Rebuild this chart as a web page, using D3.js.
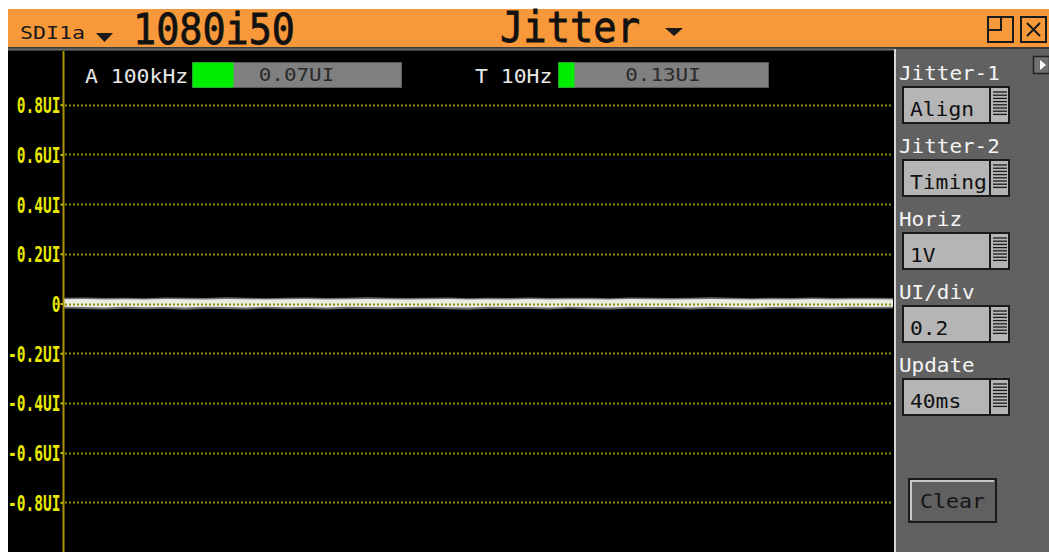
<!DOCTYPE html>
<html><head><meta charset="utf-8">
<script src="https://cdn.jsdelivr.net/npm/d3@7"></script>
<style>body{margin:0;background:#fff;}svg{display:block;}</style>
</head><body>
<svg id="c" width="1049" height="552"></svg>
<script>
// ---- data ----
const tickValues = [0.8, 0.6, 0.4, 0.2, 0, -0.2, -0.4, -0.6, -0.8];
const tickLabels = ["0.8UI","0.6UI","0.4UI","0.2UI","0","-0.2UI","-0.4UI","-0.6UI","-0.8UI"];
const readoutLabels = ["A 100kHz", "T 10Hz"];
const readoutValues = ["0.07UI", "0.13UI"];
const meterFill = [0.196, 0.076];
const panelLabels = ["Jitter-1","Jitter-2","Horiz","UI/div","Update"];
const panelValues = ["Align","Timing","1V","0.2","40ms"];
// jitter trace envelopes (UI)
const outerUpper = [0.023,0.024,0.022,0.023,0.021,0.024,0.023,0.022,0.025,0.023,0.021,0.023,0.024,0.022,0.023,0.025,0.023,0.022,0.023,0.024,0.021,0.023,0.022,0.024,0.022,0.023,0.023,0.021,0.024,0.023,0.022,0.023,0.025,0.023,0.021,0.023,0.022,0.024,0.022,0.023,0.023,0.022];
const outerLower = [-0.020,-0.022,-0.024,-0.021,-0.023,-0.021,-0.025,-0.021,-0.022,-0.024,-0.020,-0.023,-0.021,-0.024,-0.021,-0.022,-0.023,-0.021,-0.020,-0.023,-0.025,-0.021,-0.022,-0.021,-0.024,-0.020,-0.023,-0.024,-0.021,-0.022,-0.021,-0.024,-0.021,-0.023,-0.024,-0.021,-0.020,-0.022,-0.023,-0.021,-0.021,-0.020];
const innerUpper = [0.017,0.018,0.016,0.017,0.016,0.018,0.017,0.016,0.018,0.017,0.016,0.017,0.018,0.016,0.017,0.018,0.017,0.016,0.017,0.018,0.016,0.017,0.016,0.018,0.016,0.017,0.017,0.016,0.018,0.017,0.016,0.017,0.018,0.017,0.016,0.017,0.016,0.018,0.016,0.017,0.017,0.016];
const innerLower = [-0.013,-0.014,-0.016,-0.013,-0.015,-0.014,-0.016,-0.013,-0.014,-0.016,-0.013,-0.015,-0.014,-0.016,-0.013,-0.014,-0.015,-0.014,-0.013,-0.015,-0.016,-0.013,-0.014,-0.014,-0.016,-0.013,-0.015,-0.016,-0.013,-0.014,-0.014,-0.016,-0.013,-0.015,-0.016,-0.014,-0.013,-0.014,-0.015,-0.013,-0.014,-0.013];

// ---- drawing ----
const svg = d3.select("#c");
const mono = "'DejaVu Sans Mono', monospace";

// header
svg.append("rect").attr("x",8).attr("y",9).attr("width",1041).attr("height",39).attr("fill","#f7993a");
svg.append("rect").attr("x",8).attr("y",47).attr("width",1041).attr("height",4).attr("fill","#3a3a3a");
svg.append("rect").attr("x",8).attr("y",48.5).attr("width",886).attr("height",1.5).attr("fill","#6a6a6a");

// plot background and panel
svg.append("rect").attr("x",8).attr("y",51).attr("width",886).attr("height",501).attr("fill","#000");
svg.append("rect").attr("x",894).attr("y",49).attr("width",155).attr("height",503).attr("fill","#616161");
svg.append("line").attr("x1",895).attr("x2",895).attr("y1",49).attr("y2",552).attr("stroke","#d8d8d8").attr("stroke-width",2);

// header texts
function txt(x,y,s,size,fill,len,anchor){
  const t = svg.append("text").attr("x",x).attr("y",y).text(s)
    .attr("font-family",mono).attr("font-size",size).attr("fill",fill);
  if(len) t.attr("textLength",len).attr("lengthAdjust","spacingAndGlyphs");
  if(anchor) t.attr("text-anchor",anchor);
  return t;
}
txt(20,39,"SDI1a",17,"#1a1a1a",65);
svg.append("polygon").attr("points","96,33 113,33 104.5,42").attr("fill","#1a1a1a");
txt(133,44,"1080i50",42,"#111",162).attr("stroke","#111").attr("stroke-width",0.8);
txt(500,42,"Jitter",42,"#111",140).attr("stroke","#111").attr("stroke-width",0.8);
svg.append("polygon").attr("points","665,28 683,28 674,36").attr("fill","#1a1a1a");
svg.append("rect").attr("x",988).attr("y",17).attr("width",25).attr("height",25).attr("fill","none").attr("stroke","#1a1a1a").attr("stroke-width",2);
svg.append("path").attr("d","M1001,17 V30 H988").attr("fill","none").attr("stroke","#1a1a1a").attr("stroke-width",2);
svg.append("rect").attr("x",1021).attr("y",17).attr("width",25).attr("height",25).attr("fill","none").attr("stroke","#1a1a1a").attr("stroke-width",2);
svg.append("path").attr("d","M1027,23 L1040,36 M1040,23 L1027,36").attr("fill","none").attr("stroke","#1a1a1a").attr("stroke-width",2);

// scales
const y = d3.scaleLinear().domain([-1, 1]).range([552, 55]);
const x = d3.scaleLinear().domain([0, outerUpper.length-1]).range([64, 893]);

// trace
const idx = d3.range(outerUpper.length);
const areaOuter = d3.area().x(i=>x(i)).y0(i=>y(outerLower[i])).y1(i=>y(outerUpper[i])).curve(d3.curveLinear);
const areaInner = d3.area().x(i=>x(i)).y0(i=>y(innerLower[i])).y1(i=>y(innerUpper[i])).curve(d3.curveLinear);
svg.append("path").datum(idx).attr("d",areaOuter).attr("fill","#6e6e6c");
svg.append("path").datum(idx).attr("d",areaInner).attr("fill","#ecece6");

// gridlines
svg.append("g").selectAll("line").data(tickValues).join("line")
  .attr("x1",65).attr("x2",893).attr("y1",d=>Math.round(y(d))+0.5).attr("y2",d=>Math.round(y(d))+0.5)
  .attr("stroke","#8c8c00").attr("stroke-width",2).attr("stroke-dasharray","2,2");

// axis
const sx = 0.66;
const axis = d3.axisLeft(y).tickValues(tickValues).tickFormat((d,i)=>tickLabels[i]).tickSize(3).tickPadding(0).tickSizeOuter(0);
const g = svg.append("g").attr("transform","translate(63.5,0)").call(axis);
g.select(".domain").remove();
g.selectAll(".tick line").attr("stroke","#c8c800").attr("stroke-width",2);
g.selectAll(".tick text").attr("fill","#e8e800").attr("font-family",mono).attr("font-size",22)
  .attr("font-weight","bold").attr("transform",`scale(${sx},1)`).attr("x",-3/sx).attr("dy","0.36em");
svg.append("line").attr("x1",63.5).attr("x2",63.5).attr("y1",51).attr("y2",552).attr("stroke","#a89400").attr("stroke-width",2);

// readouts
const rx = [85, 475], bx = [192, 558], bw = [209, 210];
readoutLabels.forEach((s,i)=>{
  txt(rx[i],83,s,19,"#e8e8e8",s.length*12.9);
  svg.append("rect").attr("x",bx[i]+0.5).attr("y",62.5).attr("width",bw[i]).attr("height",25).attr("fill","#808080").attr("stroke","#5a5a5a");
  svg.append("rect").attr("x",bx[i]+0.5).attr("y",62.5).attr("width",bw[i]*meterFill[i]).attr("height",25).attr("fill","#00ee00");
  txt(bx[i]+bw[i]/2,81,readoutValues[i],18,"#2a2a2a",readoutValues[i].length*12.6,"middle");
});

// right panel
svg.append("rect").attr("x",1033.5).attr("y",56.5).attr("width",16).attr("height",17).attr("fill","#707070").attr("stroke","#222").attr("stroke-width",1.5);
svg.append("polygon").attr("points","1040,60 1046,65 1040,70").attr("fill","#fff");
panelLabels.forEach((s,i)=>{
  const top = 86 + i*73;
  txt(899, top-6, s, 19, "#f4f4f4", s.length*12.6);
  svg.append("rect").attr("x",903).attr("y",top+1).attr("width",106).attr("height",36).attr("fill","#b5b5b5").attr("stroke","#1a1a1a").attr("stroke-width",2);
  svg.append("line").attr("x1",990).attr("x2",990).attr("y1",top+1).attr("y2",top+37).attr("stroke","#1a1a1a").attr("stroke-width",2);
  d3.range(8).forEach(k=>{
    svg.append("line").attr("x1",993).attr("x2",1007).attr("y1",top+6+k*3.2).attr("y2",top+6+k*3.2).attr("stroke","#1a1a1a").attr("stroke-width",1.3);
  });
  txt(910, top+30, panelValues[i], 19, "#111", panelValues[i].length*12.8);
});
// Clear button
svg.append("rect").attr("x",909).attr("y",479).attr("width",87).attr("height",43).attr("fill","#606060").attr("stroke","#1a1a1a").attr("stroke-width",2);
svg.append("path").attr("d","M911,520 V481 H994").attr("fill","none").attr("stroke","#c8c8c8").attr("stroke-width",2);
txt(920,508,"Clear",19,"#151515",65);
</script>
</body></html>
